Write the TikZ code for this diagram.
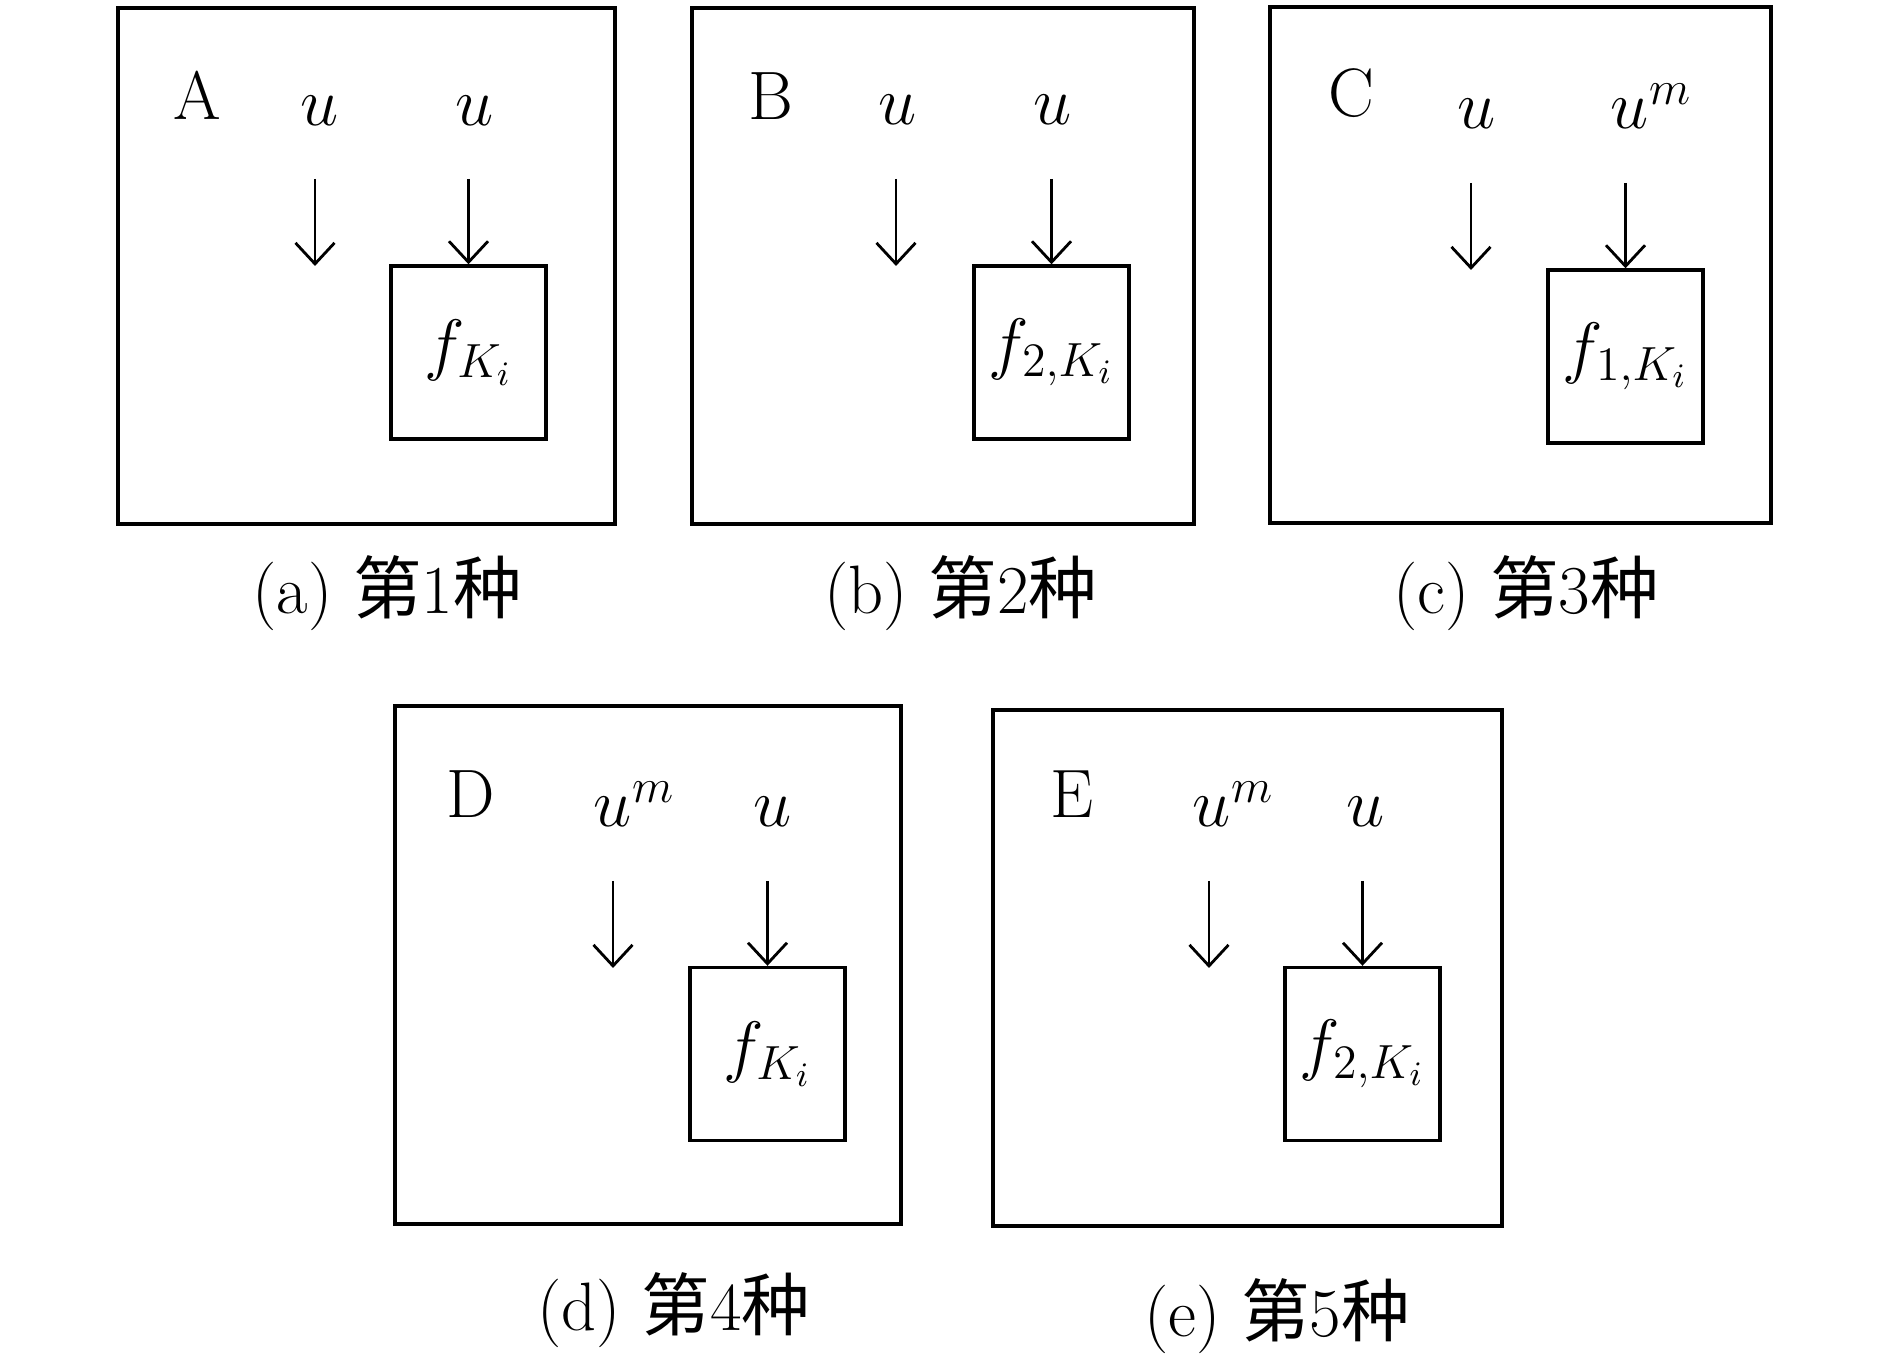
\RequirePackage{fix-cm}
\documentclass[tikz,border=0pt]{standalone}
\usepackage{fontspec}
\newfontfamily\cjk{Noto Sans CJK SC}
\usetikzlibrary{arrows.meta}

\begin{document}
\begin{tikzpicture}[scale=1,
    frame/.style={line width=0.95pt},
    funcbox/.style={draw, line width=0.95pt, minimum width=1.55cm, minimum height=1.73cm, inner sep=0pt},
    lbl/.style={inner sep=0pt, anchor=base},
    arr/.style={line width=0.8pt, -{Straight Barb[length=2.1mm,width=3.9mm]}},
    font=\fontsize{19.5}{23}\selectfont]

    \useasboundingbox (0,0) rectangle (18.9,13.58);

    % panel A
    \draw[frame] (1.18,8.34) rectangle (6.15,13.50);
    \node[lbl] (la) at (1.97,12.38) {A};
    \node[lbl] (ua1) at (3.20,12.32) {$u$};
    \node[lbl] (ua2) at (4.75,12.32) {$u$};
    \node[funcbox] (fa) at (4.685,10.055) {$f_{K_i}$};
    \coordinate (sa1) at (3.15,11.79);
    \coordinate (ea1) at (3.15,10.92);
    \coordinate (sa2) at (4.685,11.79);
    \draw[arr] (sa1) -- (ea1);
    \draw[arr] (sa2) -- (sa2 |- fa.north);
    \node[lbl] (capa) at (3.87,7.44) {(a)\ {\cjk 第}1{\cjk 种}};

    % panel B
    \draw[frame] (6.92,8.34) rectangle (11.94,13.50);
    \node[lbl] (lb) at (7.71,12.38) {B};
    \node[lbl] (ub1) at (8.98,12.33) {$u$};
    \node[lbl] (ub2) at (10.53,12.33) {$u$};
    \node[funcbox] (fb) at (10.515,10.055) {$f_{2,K_i}$};
    \coordinate (sb1) at (8.96,11.79);
    \coordinate (eb1) at (8.96,10.92);
    \coordinate (sb2) at (10.515,11.79);
    \draw[arr] (sb1) -- (eb1);
    \draw[arr] (sb2) -- (sb2 |- fb.north);
    \node[lbl] (capb) at (9.61,7.44) {(b)\ {\cjk 第}2{\cjk 种}};

    % panel C
    \draw[frame] (12.70,8.35) rectangle (17.71,13.51);
    \node[lbl] (lc) at (13.51,12.41) {C};
    \node[lbl] (uc1) at (14.77,12.29) {$u$};
    \node[lbl] (uc2) at (16.30,12.29) {$u\rlap{$^{m}$}$};
    \node[funcbox] (fc) at (16.255,10.015) {$f_{1,K_i}$};
    \coordinate (sc1) at (14.71,11.75);
    \coordinate (ec1) at (14.71,10.88);
    \coordinate (sc2) at (16.255,11.75);
    \draw[arr] (sc1) -- (ec1);
    \draw[arr] (sc2) -- (sc2 |- fc.north);
    \node[lbl] (capc) at (15.26,7.44) {(c)\ {\cjk 第}3{\cjk 种}};

    % panel D
    \draw[frame] (3.95,1.34) rectangle (9.01,6.52);
    \node[lbl] (ld) at (4.71,5.40) {D};
    \node[lbl] (ud1) at (6.13,5.31) {$u\rlap{$^{m}$}$};
    \node[lbl] (ud2) at (7.73,5.31) {$u$};
    \node[funcbox] (fd) at (7.675,3.04) {$f_{K_i}$};
    \coordinate (sd1) at (6.13,4.77);
    \coordinate (ed1) at (6.13,3.90);
    \coordinate (sd2) at (7.675,4.77);
    \draw[arr] (sd1) -- (ed1);
    \draw[arr] (sd2) -- (sd2 |- fd.north);
    \node[lbl] (capd) at (6.74,0.27) {(d)\ {\cjk 第}4{\cjk 种}};

    % panel E
    \draw[frame] (9.93,1.32) rectangle (15.02,6.48);
    \node[lbl] (le) at (10.72,5.40) {E};
    \node[lbl] (ue1) at (12.12,5.31) {$u\rlap{$^{m}$}$};
    \node[lbl] (ue2) at (13.66,5.31) {$u$};
    \node[funcbox] (fe) at (13.625,3.04) {$f_{2,K_i}$};
    \coordinate (se1) at (12.09,4.77);
    \coordinate (ee1) at (12.09,3.90);
    \coordinate (se2) at (13.625,4.77);
    \draw[arr] (se1) -- (ee1);
    \draw[arr] (se2) -- (se2 |- fe.north);
    \node[lbl] (cape) at (12.77,0.21) {(e)\ {\cjk 第}5{\cjk 种}};

\end{tikzpicture}
\end{document}
